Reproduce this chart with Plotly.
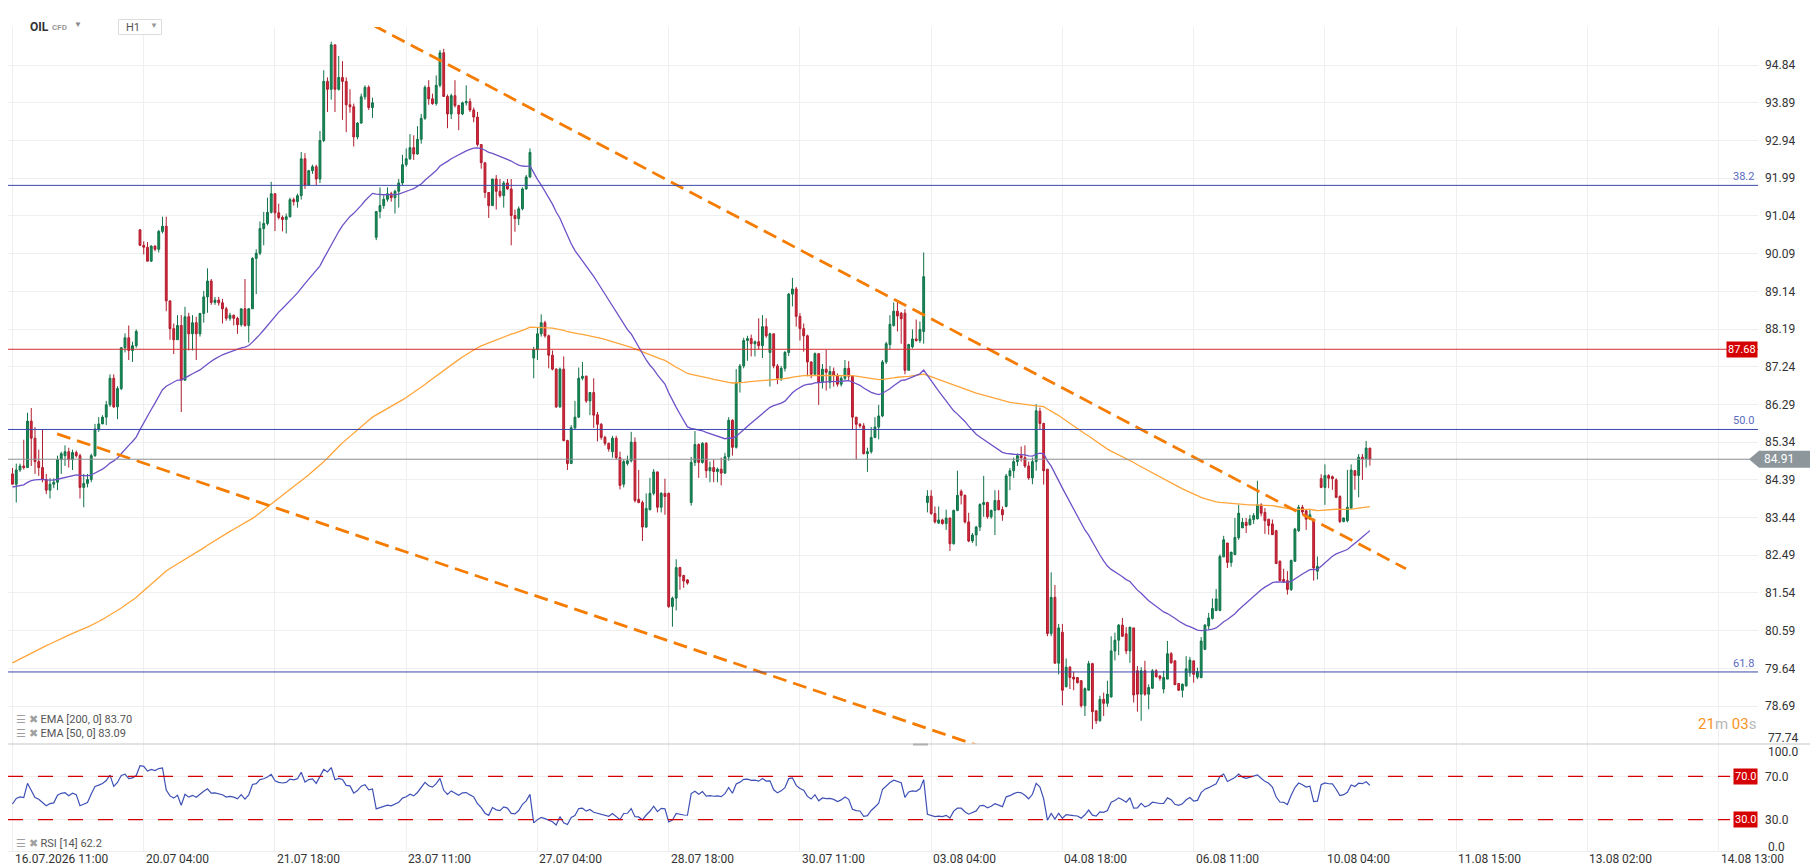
import plotly.graph_objects as go

# ---- hourly OHLC (index 0 = 16.07.2026 11:00) ----
opens = [
    84.54, 84.28, 84.64, 84.74, 84.70, 85.87, 85.44, 84.85, 84.70, 84.40,
    84.13, 84.28, 84.33, 84.90, 85.00, 85.10, 84.90, 85.08, 85.00, 84.20,
    84.30, 84.40, 85.00, 85.67, 85.80, 85.97, 86.28, 86.95, 86.23, 86.69,
    87.72, 87.97, 87.65, 87.77, 90.69, 90.30, 90.25, 89.90, 90.28, 90.20,
    90.65, 90.78, 88.90, 88.20, 87.92, 88.28, 86.90, 88.50, 88.07, 88.35,
    88.07, 88.58, 89.00, 89.40, 88.86, 88.92, 88.85, 88.70, 88.46, 88.54,
    88.46, 88.30, 88.70, 88.28, 88.70, 89.97, 90.10, 90.72, 90.85, 91.13,
    91.60, 91.12, 91.00, 90.95, 91.02, 91.45, 91.40, 91.55, 92.48, 91.82,
    92.18, 92.28, 91.97, 92.94, 94.43, 94.23, 95.35, 94.23, 94.53, 94.43,
    93.84, 93.79, 93.03, 93.38, 94.04, 94.28, 93.77, 90.50, 91.15, 91.30,
    91.46, 91.60, 91.50, 91.66, 91.87, 92.33, 92.48, 92.76, 92.60, 92.97,
    93.50, 94.28, 93.99, 93.87, 94.33, 95.15, 94.05, 93.61, 94.07, 93.82,
    93.61, 93.89, 93.92, 93.71, 93.53, 92.84, 92.38, 91.63, 91.30, 91.97,
    91.66, 91.55, 91.87, 91.72, 91.05, 90.97, 91.22, 91.72, 92.02, 87.46,
    87.67, 88.07, 88.35, 88.02, 87.53, 87.18, 86.23, 87.18, 85.38, 84.80,
    85.70, 85.97, 86.95, 87.00, 86.38, 86.59, 86.03, 85.79, 85.46, 85.31,
    85.10, 85.44, 84.95, 84.28, 84.80, 84.87, 85.34, 83.90, 83.82, 83.20,
    83.64, 84.05, 84.59, 83.70, 84.05, 84.05, 81.20, 81.41, 82.18, 81.98,
    81.87, 83.82, 84.83, 85.28, 84.83, 85.31, 84.62, 84.70, 84.60, 84.66,
    84.56, 84.97, 85.89, 85.21, 86.85, 87.26, 87.90, 87.95, 87.82, 87.87,
    87.77, 88.25, 87.60, 88.07, 87.26, 86.95, 87.20, 87.60, 89.07, 89.20,
    88.51, 88.20, 88.02, 87.36, 87.05, 87.57, 86.85, 87.18, 86.85, 87.12,
    87.02, 86.80, 86.95, 87.20, 87.00, 85.97, 85.79, 85.75, 85.05, 85.10,
    85.46, 85.72, 86.00, 87.36, 87.80, 88.28, 88.64, 88.59, 88.59, 87.15,
    87.74, 87.94, 87.90, 88.13, 83.82, 83.98, 83.54, 83.30, 83.38, 83.29,
    83.43, 82.78, 83.62, 84.10, 84.00, 83.33, 82.85, 83.00, 83.20, 83.77,
    83.82, 83.46, 83.62, 83.87, 83.64, 83.72, 84.49, 84.62, 84.85, 85.00,
    84.95, 84.74, 84.44, 84.85, 86.12, 85.81, 84.66, 80.52, 81.43, 79.77,
    80.55, 79.18, 79.67, 79.42, 79.41, 79.33, 78.70, 79.09, 79.76, 78.57,
    78.32, 78.86, 78.76, 78.92, 80.08, 80.35, 80.73, 80.51, 80.08, 80.66,
    79.58, 78.99, 79.58, 78.99, 79.14, 79.58, 79.45, 79.12, 79.37, 80.01,
    79.83, 79.26, 79.09, 79.20, 79.53, 79.83, 79.42, 79.41, 80.12, 80.71,
    80.90, 81.10, 81.10, 82.45, 82.80, 82.31, 82.51, 82.93, 83.18, 83.32,
    83.26, 83.39, 83.41, 83.76, 83.57, 83.40, 83.28, 83.11, 82.34, 81.88,
    81.85, 81.63, 82.34, 83.11, 83.70, 83.61, 83.40, 83.40, 82.09, 84.42,
    84.20, 84.50, 84.47, 84.39, 83.97, 83.34, 83.36, 83.68, 84.62, 84.50,
    84.96, 84.92, 85.19,
]
highs = [
    84.69, 84.80, 84.80, 85.40, 86.08, 86.20, 85.72, 85.15, 85.67, 84.54,
    84.43, 84.43, 85.00, 85.10, 85.26, 85.20, 85.15, 85.13, 85.05, 84.54,
    84.54, 85.05, 85.80, 85.97, 86.02, 86.38, 87.05, 87.05, 86.75, 87.72,
    88.08, 88.28, 87.87, 88.18, 90.70, 90.40, 90.38, 90.30, 90.30, 90.69,
    91.02, 91.02, 88.90, 88.33, 88.54, 88.54, 88.75, 88.60, 88.54, 88.50,
    88.60, 89.15, 89.72, 89.45, 89.00, 89.00, 88.95, 88.75, 88.60, 88.55,
    88.50, 88.70, 89.45, 88.72, 90.00, 90.20, 90.90, 91.14, 91.50, 91.90,
    91.60, 91.35, 91.05, 91.10, 91.50, 91.50, 91.60, 92.65, 92.62, 92.20,
    92.33, 92.33, 93.18, 94.71, 94.53, 95.43, 95.35, 95.07, 94.94, 94.53,
    94.23, 93.87, 93.40, 94.12, 94.33, 94.33, 94.02, 91.15, 91.76, 91.56,
    91.76, 91.65, 91.70, 91.97, 92.58, 92.74, 93.10, 93.07, 93.30, 93.61,
    94.33, 94.46, 94.12, 94.58, 95.22, 95.25, 94.10, 94.12, 94.46, 93.84,
    93.92, 94.33, 94.00, 93.77, 93.66, 92.84, 92.38, 91.63, 91.97, 92.07,
    91.97, 91.92, 91.97, 91.97, 91.20, 91.28, 91.76, 92.07, 92.74, 87.74,
    88.23, 88.56, 88.40, 88.05, 87.65, 87.20, 87.22, 87.50, 85.40, 85.77,
    86.38, 87.22, 87.36, 87.02, 86.60, 86.95, 86.10, 85.82, 85.50, 85.33,
    85.50, 85.50, 85.10, 84.90, 85.00, 85.60, 85.46, 84.64, 83.87, 84.05,
    84.44, 84.66, 84.60, 84.08, 84.42, 84.07, 81.45, 82.39, 82.20, 82.00,
    81.89, 84.97, 85.62, 85.31, 85.34, 85.34, 84.85, 84.90, 84.70, 84.95,
    85.07, 85.97, 85.92, 87.18, 87.31, 87.97, 88.02, 88.05, 87.90, 88.46,
    88.54, 88.46, 88.10, 88.07, 87.31, 87.26, 87.64, 89.10, 89.48, 89.25,
    88.59, 88.33, 88.05, 87.38, 87.60, 87.57, 87.31, 87.67, 87.26, 87.22,
    87.07, 87.00, 87.41, 87.38, 87.00, 85.97, 85.82, 85.82, 85.20, 85.72,
    85.97, 86.28, 87.41, 87.87, 88.54, 88.86, 88.86, 88.62, 88.69, 87.82,
    88.18, 88.43, 88.38, 90.12, 84.13, 84.13, 83.72, 83.72, 83.41, 83.64,
    83.43, 83.64, 84.62, 84.15, 84.02, 83.56, 83.05, 83.23, 83.80, 84.49,
    83.84, 83.64, 84.13, 84.13, 83.72, 84.54, 84.69, 84.95, 85.05, 85.23,
    85.26, 84.85, 84.95, 86.30, 86.21, 85.83, 84.66, 82.06, 81.74, 80.76,
    80.76, 79.89, 79.70, 79.56, 79.41, 79.34, 79.16, 79.83, 79.78, 78.59,
    78.95, 79.03, 79.33, 80.45, 80.54, 80.76, 80.91, 80.68, 80.68, 80.66,
    79.70, 79.67, 79.83, 79.24, 79.62, 79.62, 79.47, 79.58, 80.33, 80.05,
    79.84, 79.26, 79.26, 79.95, 79.93, 79.83, 79.66, 80.43, 80.76, 81.04,
    81.40, 81.64, 82.51, 82.98, 82.80, 82.57, 83.43, 83.76, 83.43, 83.43,
    83.51, 83.55, 84.37, 83.80, 83.68, 83.40, 83.39, 83.13, 82.36, 82.15,
    82.09, 82.38, 83.18, 83.76, 83.76, 83.64, 83.66, 83.40, 82.46, 84.53,
    84.78, 84.53, 84.50, 84.43, 84.00, 83.44, 84.64, 84.78, 84.64, 85.04,
    85.04, 85.37, 85.19,
]
lows = [
    84.28, 83.82, 84.59, 84.65, 84.70, 84.74, 84.54, 84.49, 84.33, 84.03,
    83.92, 84.18, 84.13, 84.54, 84.74, 84.70, 84.64, 84.95, 83.92, 83.70,
    84.20, 84.33, 84.97, 85.60, 85.80, 85.77, 86.23, 86.20, 85.92, 86.65,
    87.60, 87.41, 87.36, 87.72, 90.28, 90.07, 89.90, 89.88, 90.15, 90.12,
    90.60, 88.64, 87.92, 87.56, 87.92, 86.10, 86.90, 87.65, 87.65, 87.41,
    88.00, 88.35, 88.60, 88.80, 88.80, 88.78, 88.33, 88.40, 88.40, 88.28,
    88.07, 88.25, 88.25, 87.85, 88.70, 89.07, 90.05, 90.30, 90.80, 91.10,
    90.66, 90.95, 90.65, 90.60, 91.00, 91.30, 91.25, 91.45, 91.72, 91.80,
    92.10, 91.82, 91.87, 92.90, 93.66, 93.97, 93.66, 94.20, 93.46, 93.15,
    93.64, 92.79, 92.97, 93.36, 93.97, 93.71, 93.51, 90.43, 90.98, 91.22,
    91.40, 91.40, 91.10, 91.25, 91.82, 92.28, 92.45, 92.45, 92.58, 92.86,
    93.46, 93.84, 93.84, 93.82, 94.28, 94.05, 93.25, 93.48, 93.77, 93.20,
    93.58, 93.82, 93.66, 93.40, 92.79, 92.23, 91.49, 90.99, 91.30, 91.20,
    91.50, 91.25, 91.70, 90.30, 90.64, 90.81, 91.18, 91.70, 92.00, 86.95,
    87.41, 88.00, 87.97, 87.20, 87.15, 86.20, 86.20, 85.36, 84.64, 84.80,
    85.66, 85.95, 86.90, 86.33, 86.02, 85.70, 85.36, 85.40, 85.25, 85.10,
    84.95, 84.90, 84.15, 84.20, 84.75, 84.83, 83.82, 83.80, 82.85, 83.18,
    83.62, 84.00, 83.57, 83.57, 83.51, 81.16, 80.69, 81.10, 81.62, 81.67,
    81.75, 83.74, 84.74, 84.44, 84.80, 84.44, 84.33, 84.33, 84.33, 84.25,
    84.54, 84.87, 85.00, 85.18, 86.59, 87.20, 87.39, 87.50, 87.50, 87.67,
    87.46, 87.97, 86.74, 87.20, 86.80, 86.88, 87.12, 87.51, 88.76, 88.25,
    87.90, 87.62, 87.00, 86.95, 87.02, 86.28, 86.69, 86.64, 86.69, 86.74,
    86.74, 86.74, 86.90, 86.90, 85.67, 84.90, 85.70, 85.03, 84.59, 85.05,
    85.44, 85.41, 85.97, 87.31, 87.67, 88.25, 88.13, 87.82, 87.05, 87.15,
    87.70, 87.87, 87.84, 87.82, 83.57, 83.51, 83.29, 83.29, 83.26, 83.13,
    82.60, 82.76, 83.60, 83.77, 83.29, 82.82, 82.80, 82.72, 83.10, 83.46,
    83.41, 83.41, 83.00, 83.62, 83.36, 83.70, 84.13, 84.44, 84.74, 84.85,
    84.69, 84.39, 84.28, 84.62, 85.67, 84.27, 80.45, 80.45, 79.77, 79.49,
    78.71, 79.16, 79.12, 79.09, 79.26, 78.65, 78.44, 79.09, 78.11, 78.24,
    78.30, 78.44, 78.67, 78.91, 79.84, 79.97, 80.43, 80.00, 79.78, 78.78,
    78.55, 78.32, 78.95, 78.61, 79.12, 79.41, 79.33, 79.01, 79.37, 79.76,
    79.22, 79.07, 78.91, 79.18, 79.43, 79.28, 79.37, 79.39, 80.10, 80.62,
    80.87, 81.08, 81.08, 82.44, 82.17, 82.20, 82.49, 82.88, 83.18, 83.05,
    83.24, 83.28, 83.39, 83.47, 83.03, 83.01, 83.00, 82.28, 81.84, 81.79,
    81.50, 81.59, 82.32, 83.08, 83.51, 83.13, 83.39, 81.85, 81.88, 84.18,
    83.76, 84.18, 84.14, 83.93, 83.30, 83.32, 83.32, 83.66, 84.14, 83.95,
    84.39, 84.70, 84.75,
]
closes = [
    84.28, 84.64, 84.74, 84.70, 85.87, 85.44, 84.85, 84.70, 84.40, 84.13,
    84.28, 84.33, 84.90, 85.05, 85.10, 84.90, 85.08, 85.00, 84.20, 84.30,
    84.40, 85.00, 85.67, 85.80, 85.97, 86.28, 86.95, 86.23, 86.69, 87.72,
    87.97, 87.65, 87.77, 88.13, 90.30, 90.25, 89.90, 90.28, 90.20, 90.65,
    90.78, 88.90, 88.20, 87.92, 88.28, 86.90, 88.50, 88.07, 88.35, 88.07,
    88.58, 89.00, 89.40, 88.86, 88.92, 88.85, 88.70, 88.46, 88.54, 88.46,
    88.30, 88.70, 88.28, 88.70, 89.97, 90.10, 90.72, 90.85, 91.13, 91.60,
    91.12, 91.00, 90.95, 91.02, 91.45, 91.40, 91.55, 92.48, 91.82, 92.18,
    92.28, 91.97, 92.94, 94.43, 94.23, 95.35, 94.23, 94.53, 94.43, 93.84,
    93.79, 93.03, 93.38, 94.04, 94.28, 93.77, 93.89, 91.15, 91.30, 91.46,
    91.60, 91.50, 91.66, 91.87, 92.33, 92.48, 92.76, 92.60, 92.97, 93.50,
    94.28, 93.99, 93.87, 94.33, 95.15, 94.05, 93.61, 94.07, 93.82, 93.61,
    93.89, 93.92, 93.71, 93.53, 92.84, 92.38, 91.63, 91.30, 91.97, 91.66,
    91.55, 91.87, 91.72, 91.05, 90.97, 91.22, 91.72, 92.02, 92.64, 87.67,
    88.07, 88.35, 88.02, 87.53, 87.18, 86.23, 87.18, 85.38, 84.80, 85.70,
    85.97, 86.95, 87.00, 86.38, 86.59, 86.02, 85.79, 85.46, 85.31, 85.17,
    85.44, 84.95, 84.25, 84.85, 84.87, 85.34, 83.87, 83.82, 83.20, 83.67,
    84.05, 84.59, 83.70, 84.05, 83.97, 81.20, 81.41, 82.18, 81.96, 81.84,
    81.79, 84.83, 85.28, 84.83, 85.31, 84.62, 84.70, 84.60, 84.66, 84.56,
    84.97, 85.89, 85.21, 86.85, 87.26, 87.90, 87.95, 87.82, 87.87, 87.77,
    88.25, 88.02, 88.07, 87.26, 86.95, 87.20, 87.60, 89.07, 89.20, 88.51,
    88.20, 88.02, 87.36, 87.05, 87.57, 86.85, 87.18, 87.10, 87.12, 87.02,
    86.80, 86.95, 87.20, 87.00, 85.97, 85.79, 85.75, 85.05, 85.10, 85.46,
    85.72, 86.00, 87.36, 87.82, 88.31, 88.64, 88.52, 88.45, 87.15, 87.80,
    87.94, 87.90, 88.18, 89.51, 83.98, 83.54, 83.33, 83.38, 83.29, 83.43,
    82.78, 83.62, 84.00, 84.00, 83.33, 82.85, 83.00, 83.20, 83.77, 83.82,
    83.46, 83.62, 83.87, 83.64, 83.51, 84.49, 84.62, 84.85, 85.00, 84.95,
    84.74, 84.44, 84.85, 86.13, 85.81, 84.62, 80.52, 81.43, 79.77, 80.66,
    79.09, 79.67, 79.41, 79.37, 79.28, 78.70, 79.13, 79.76, 78.55, 78.32,
    78.86, 78.76, 78.99, 80.08, 80.35, 80.73, 80.45, 80.08, 80.68, 78.97,
    78.99, 79.58, 78.99, 79.16, 79.58, 79.43, 79.39, 79.41, 80.01, 79.78,
    79.23, 79.09, 79.24, 79.63, 79.85, 79.49, 79.56, 80.33, 80.73, 80.91,
    81.15, 81.39, 82.46, 82.88, 82.31, 82.57, 82.94, 83.55, 83.32, 83.24,
    83.40, 83.49, 83.76, 83.55, 83.36, 83.24, 83.01, 82.28, 81.85, 81.82,
    81.63, 82.36, 83.15, 83.70, 83.58, 83.40, 83.51, 82.17, 82.21, 84.20,
    84.50, 84.43, 84.42, 83.95, 83.34, 83.43, 83.70, 84.64, 84.50, 84.96,
    84.92, 85.19, 84.91,
]

# x-axis labels, one every 35 candles
x_labels = ["16.07.2026 11:00", "20.07 04:00", "21.07 18:00", "23.07 11:00",
            "27.07 04:00", "28.07 18:00", "30.07 11:00", "03.08 04:00",
            "04.08 18:00", "06.08 11:00", "10.08 04:00", "11.08 15:00",
            "13.08 02:00", "14.08 13:00"]
label_step = 35

price_ticks = [78.69, 79.64, 80.59, 81.54, 82.49, 83.44, 84.39, 85.34, 86.29,
               87.24, 88.19, 89.14, 90.09, 91.04, 91.99, 92.94, 93.89, 94.84]

# indicator starting values
ema50_start = 84.21
ema200_start = 79.78
rsi_start_gain, rsi_start_loss = 0.12, 0.15

# fibonacci / horizontal levels
fib_levels = [91.81, 85.66, 79.55]
fib_names = ["38.2", "50.0", "61.8"]
resistance = 87.68
last_price = 84.91

# trendlines: (candle index, price) end points
upper_trend_x = [96.3, 371.6]
upper_trend_y = [95.84, 82.15]
lower_trend_x = [11.9, 262.0]
lower_trend_y = [85.55, 77.55]

# ---- derived series ----
n = len(closes)
idx = list(range(n))
highs = [max(h, o, c) for h, o, c in zip(highs, opens, closes)]
lows = [min(l, o, c) for l, o, c in zip(lows, opens, closes)]


def ema(vals, period, start):
    a = 2.0 / (period + 1)
    e = start
    out = [e]
    for v in vals[1:]:
        e = e + a * (v - e)
        out.append(e)
    return out


ema50 = ema(closes, 50, ema50_start)
ema200 = ema(closes, 200, ema200_start)

ag, al = rsi_start_gain, rsi_start_loss
rsi = [100 - 100 / (1 + ag / al)]
for k in range(1, n):
    d = closes[k] - closes[k - 1]
    ag = (ag * 13 + max(d, 0)) / 14
    al = (al * 13 + max(-d, 0)) / 14
    rsi.append(100 - 100 / (1 + ag / al))

# ---- page geometry (pixels) ----
W, H = 1818, 868
ML, MR, MT, MB = 0, 68, 19, 24
PW = W - ML - MR
PH = H - MT - MB
rsi_frac = (844 - 736) / PH


def px(x):
    return (x - ML) / PW


def py(y):
    return (H - MB - y) / PH


FONT = "Roboto"
GREEN, GREEN_L = "#178c5a", "#117248"
RED, RED_L = "#d8283c", "#b01c2d"

fig = go.Figure()

fig.add_trace(go.Candlestick(
    x=idx, open=opens, high=highs, low=lows, close=closes,
    increasing=dict(fillcolor=GREEN, line=dict(color=GREEN_L, width=1)),
    decreasing=dict(fillcolor=RED, line=dict(color=RED_L, width=1)),
    whiskerwidth=0, showlegend=False, hoverinfo="skip",
))
fig.add_trace(go.Scatter(x=idx, y=ema200, mode="lines",
                         line=dict(color="#ffa53a", width=1.3),
                         showlegend=False, hoverinfo="skip"))
fig.add_trace(go.Scatter(x=idx, y=ema50, mode="lines",
                         line=dict(color="#6f52c8", width=1.3),
                         showlegend=False, hoverinfo="skip"))
for tx, ty in [(upper_trend_x, upper_trend_y), (lower_trend_x, lower_trend_y)]:
    fig.add_trace(go.Scatter(x=tx, y=ty, mode="lines",
                             line=dict(color="#f57c00", width=2.8, dash="14px,7px"),
                             showlegend=False, hoverinfo="skip"))

fig.add_trace(go.Scatter(x=idx, y=rsi, mode="lines", yaxis="y2",
                         line=dict(color="#3f51b5", width=1.2),
                         showlegend=False, hoverinfo="skip"))

shapes = []
# horizontal levels on the price panel
for lvl in fib_levels:
    shapes.append(dict(type="line", xref="paper", yref="y", x0=0, x1=1,
                       y0=lvl, y1=lvl, line=dict(color="#3949ab", width=1),
                       layer="above"))
shapes.append(dict(type="line", xref="paper", yref="y", x0=0, x1=1,
                   y0=resistance, y1=resistance,
                   line=dict(color="#d32f2f", width=1), layer="above"))
shapes.append(dict(type="line", xref="paper", yref="y", x0=0, x1=1,
                   y0=last_price, y1=last_price,
                   line=dict(color="#8a8f94", width=1), layer="above"))
# RSI 70 / 30
for lvl in [70, 30]:
    shapes.append(dict(type="line", xref="paper", yref="y2", x0=0, x1=px(1722),
                       y0=lvl, y1=lvl,
                       line=dict(color="#d50000", width=1.3, dash="15px,15px")))
# panel separator + bottom line
shapes.append(dict(type="line", xref="paper", yref="paper", x0=0, x1=px(W),
                   y0=py(736), y1=py(736), line=dict(color="#d8d8d8", width=1.5)))
shapes.append(dict(type="line", xref="paper", yref="paper", x0=0, x1=1,
                   y0=py(843.5), y1=py(843.5), line=dict(color="#ededed", width=1)))
shapes.append(dict(type="line", xref="paper", yref="paper", x0=px(905), x1=px(920),
                   y0=py(736.5), y1=py(736.5), line=dict(color="#b0b0b0", width=2)))
# last price arrow tag
ph = 0.214
shapes.append(dict(type="path", xref="paper", yref="y",
                   path=f"M {px(1741)} {last_price} L {px(1751)} {last_price + ph} "
                        f"L {px(1808)} {last_price + ph} L {px(1808)} {last_price - ph} "
                        f"L {px(1751)} {last_price - ph} Z",
                   fillcolor="#8c969b", line=dict(width=0), layer="above"))
# H1 box
shapes.append(dict(type="rect", xref="paper", yref="paper", x0=px(110.5), x1=px(153.5),
                   y0=py(26.5), y1=py(11.5), fillcolor="white",
                   line=dict(color="#dcdcdc", width=1)))

ann = []


def label(x, y, text, size=12, color="#333", xanchor="left", yanchor="middle",
          xref="paper", yref="paper", bg=None, pad=1):
    d = dict(x=x, y=y, xref=xref, yref=yref, text=text, showarrow=False,
             xanchor=xanchor, yanchor=yanchor,
             font=dict(family=FONT, size=size, color=color))
    if bg:
        d.update(bgcolor=bg, borderpad=pad)
    ann.append(d)


# x-axis labels (left aligned on their grid line)
for k, t in enumerate(x_labels):
    label(k * label_step, py(851), t, xref="x")

# extra right-axis labels
label(px(1758), py(730), "77.74")
label(px(1758), py(744), "100.0")
label(px(1758), py(838.5), "0.0")

# fib level names
for lvl, name in zip(fib_levels, fib_names):
    label(px(1748), lvl, name, size=11, color="#5c6bc0", xanchor="right",
          yanchor="bottom", yref="y")

# price tags
label(px(1750), resistance, "87.68", size=11, color="white", xanchor="right",
      yref="y", bg="#d50000", pad=1)
label(px(1754), last_price, "84.91", size=12, color="white", yref="y")
label(px(1750), 70, "70.0", size=11, color="white", xanchor="right",
      yref="y2", bg="#d50000", pad=1)
label(px(1750), 30, "30.0", size=11, color="white", xanchor="right",
      yref="y2", bg="#d50000", pad=1)

# countdown
label(px(1750), py(716), "<span style='color:#f7941d'>21</span>"
      "<span style='color:#b8b8b8'>m </span><span style='color:#f7941d'>03</span>"
      "<span style='color:#b8b8b8'>s</span>", size=15, xanchor="right")

# indicator legends
legend_icon = "<span style='color:#a0a0a0'>☰ ✖</span> "
label(px(6), py(711.5), legend_icon + "EMA [200, 0] 83.70", size=11, color="#555")
label(px(6), py(725), legend_icon + "EMA [50, 0] 83.09", size=11, color="#555")
label(px(6), py(835.5), legend_icon + "RSI [14] 62.2", size=11, color="#555")

# header
label(px(20), py(18.5), "<b>OIL</b>", size=12, color="#333")
label(px(42), py(19.5), "<b>CFD</b>", size=8, color="#999")
label(px(69.5), py(16.5), "▼", size=8, color="#888", xanchor="center")
label(px(115.5), py(19.5), "H1", size=11, color="#555")
label(px(145.5), py(18), "▼", size=8, color="#999", xanchor="center")

fig.update_layout(
    width=W, height=H,
    margin=dict(l=ML, r=MR, t=MT, b=MB),
    paper_bgcolor="white", plot_bgcolor="white",
    font=dict(family=FONT, size=12, color="#333"),
    showlegend=False, hovermode=False,
    xaxis=dict(range=[-1.2, 465.5], anchor="y2", showticklabels=False,
               tickvals=[k * label_step for k in range(len(x_labels))],
               showgrid=True, gridcolor="#efefef", gridwidth=1,
               zeroline=False, showline=False, ticks="",
               rangeslider=dict(visible=False)),
    yaxis=dict(domain=[rsi_frac, 1], range=[77.735, 95.80], side="right",
               tickvals=price_ticks, ticktext=[f"{v:.2f}" for v in price_ticks],
               showgrid=True, gridcolor="#efefef", zeroline=False,
               showline=False, ticks="", ticklabelstandoff=6,
               tickfont=dict(family=FONT, size=12, color="#333")),
    yaxis2=dict(domain=[0, rsi_frac], range=[0, 100], side="right",
                tickvals=[30, 70], ticktext=["30.0", "70.0"],
                showgrid=True, gridcolor="#efefef", zeroline=False,
                showline=False, ticks="", ticklabelstandoff=6,
                tickfont=dict(family=FONT, size=12, color="#333")),
    shapes=shapes,
    annotations=ann,
)

fig.write_html("out.html", config={"displayModeBar": False})
